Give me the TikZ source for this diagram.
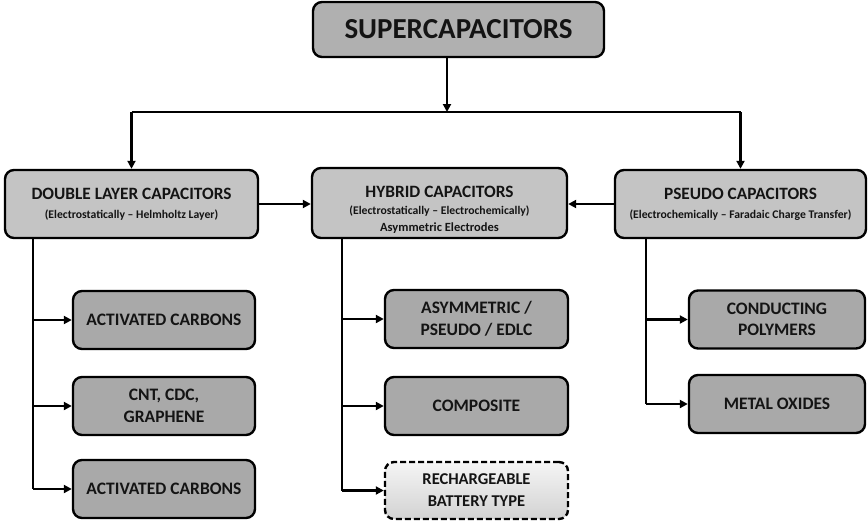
\documentclass[tikz,border=0pt]{standalone}
\usepackage{fontspec}
\setmainfont{Carlito}
\usetikzlibrary{arrows.meta}
\definecolor{topfill}{HTML}{B0B0B0}
\definecolor{parfill}{HTML}{C4C4C4}
\definecolor{kidfill}{HTML}{A9A9A9}
\tikzset{
  box/.style={draw=black, line width=2.4pt, rounded corners=9pt, align=center,
    inner sep=0pt, text=black!92},
  topbox/.style={box, fill=topfill, minimum width=291pt, minimum height=55pt, font=\bfseries\fontsize{29}{32}\selectfont},
  parbox/.style={box, fill=parfill, minimum width=253pt, minimum height=68pt, font=\bfseries\fontsize{17.3}{20}\selectfont},
  kidbox/.style={box, fill=kidfill, minimum width=182pt, minimum height=58pt, font=\bfseries\fontsize{17.5}{21.5}\selectfont},
  dashbox/.style={box, dash pattern=on 6pt off 3pt, top color=gray!8, bottom color=gray!35, minimum width=182pt, minimum height=57pt, font=\bfseries\fontsize{16.5}{22}\selectfont},
  txt/.style={align=center, inner sep=0pt, text=black!92, font=\bfseries\fontsize{17.3}{20}\selectfont},
  ln/.style={line width=2.4pt},
  arr/.style={line width=2.4pt, -{Triangle[length=8pt,width=8pt]}},
}
\newcommand{\subt}[1]{{\fontsize{11.7}{14}\selectfont #1}}
\begin{document}
\begin{tikzpicture}[x=1pt,y=-1pt]
\useasboundingbox (0,0) rectangle (868,523);
\node[topbox] (top) at (458.5,29.5) {SUPERCAPACITORS};
\node[parbox] (dl) at (131.5,204) {DOUBLE LAYER CAPACITORS\\[-1pt]\subt{(Electrostatically – Helmholtz Layer)}};
\node[parbox, minimum width=255pt, minimum height=70pt] (hy) at (439.5,203) {};
\node[txt] (hyt) at ([yshift=-7pt]hy.center) {HYBRID CAPACITORS\\[-3pt]\subt{(Electrostatically – Electrochemically)}\\[-3pt]{\fontsize{12.5}{14}\selectfont Asymmetric Electrodes}};
\node[parbox, minimum width=251pt] (ps) at (740.5,204) {PSEUDO CAPACITORS\\[-1pt]\subt{(Electrochemically – Faradaic Charge Transfer)}};

\coordinate (jm) at (447,112);
\coordinate (jl) at (131.5,112);
\coordinate (jr) at (740.5,112);
\draw[arr] (top.south -| jm) -- (jm);
\draw[ln] (jl) -- (jr);
\draw[arr] (jl) -- (dl.north);
\draw[arr] (jr) -- (ps.north);
\draw[arr] (dl.east) -- (hy.west |- dl.east);
\draw[arr] (ps.west) -- (hy.east |- ps.west);

% double layer children
\node[kidbox] (d1) at (164,320) {ACTIVATED CARBONS};
\node[kidbox] (d2) at (164,406) {CNT, CDC,\\GRAPHENE};
\node[kidbox] (d3) at (164,489) {ACTIVATED CARBONS};
% hybrid children
\node[kidbox, minimum width=183pt] (h1) at (476.5,319) {ASYMMETRIC /\\PSEUDO / EDLC};
\node[kidbox, minimum width=183pt] (h2) at (476.5,406) {COMPOSITE};
\node[dashbox, minimum width=183pt] (h3) at (476.5,490.5) {RECHARGEABLE\\BATTERY TYPE};
% pseudo children
\node[kidbox, minimum width=176pt] (p1) at (777,319.5) {CONDUCTING\\POLYMERS};
\node[kidbox, minimum width=176pt] (p2) at (777,404) {METAL OXIDES};

\coordinate (vl) at (33,0);
\coordinate (vm) at (342,0);
\coordinate (vr) at (646,0);
\draw[ln] (dl.south -| vl) -- (d3.west -| vl);
\draw[ln] (hy.south -| vm) -- (h3.west -| vm);
\draw[ln] (ps.south -| vr) -- (p2.west -| vr);
\foreach \n in {d1,d2,d3} \draw[arr] (\n.west -| vl) -- (\n.west);
\foreach \n in {h1,h2,h3} \draw[arr] (\n.west -| vm) -- (\n.west);
\foreach \n in {p1,p2} \draw[arr] (\n.west -| vr) -- (\n.west);
\end{tikzpicture}
\end{document}
